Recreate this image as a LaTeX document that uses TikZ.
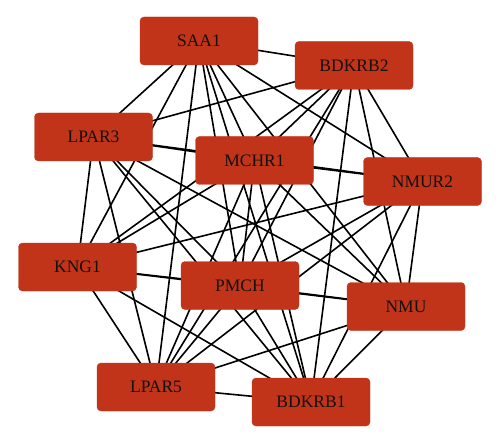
\documentclass[tikz,border=0pt]{standalone}
\usepackage{fontspec}
\setmainfont{Liberation Serif}
\definecolor{genered}{RGB}{193,52,26}
\definecolor{genetext}{RGB}{20,16,14}
\usepackage{tikz}
\usetikzlibrary{backgrounds}

\begin{document}
\begin{tikzpicture}[
      x=1pt, y=1pt,
      gene/.style={draw=genered, fill=genered, rounded corners=4pt,
                   minimum width=118pt, minimum height=48pt, outer sep=0pt,
                   text=genetext, font=\fontsize{17.5}{19}\selectfont},
      link/.style={black, line width=1.6pt}
    ]
    \useasboundingbox (0,0) rectangle (500,445);
    % genes
    \node[gene] (saa1)   at (199,404)   {SAA1};
    \node[gene] (bdkrb2) at (354,379.5) {BDKRB2};
    \node[gene] (lpar3)  at (93.5,308)  {LPAR3};
    \node[gene] (mchr1)  at (254.5,284.5) {MCHR1};
    \node[gene] (nmur2)  at (422.5,263.5) {NMUR2};
    \node[gene] (kng1)   at (77.5,178)  {KNG1};
    \node[gene] (pmch)   at (240,159.5) {PMCH};
    \node[gene] (nmu)    at (406,138.5) {NMU};
    \node[gene] (lpar5)  at (156,58)    {LPAR5};
    \node[gene] (bdkrb1) at (311,43)    {BDKRB1};
    % interactions, behind the boxes
    \begin{pgfonlayer}{background}
    \foreach \t in {bdkrb2,lpar3,mchr1,nmur2,kng1,pmch,nmu,lpar5,bdkrb1}
      \draw[link] (saa1.center) -- (\t.center);
    \foreach \t in {lpar3,mchr1,nmur2,kng1,pmch,nmu,lpar5,bdkrb1}
      \draw[link] (bdkrb2.center) -- (\t.center);
    \foreach \t in {mchr1,nmur2,kng1,pmch,nmu,lpar5,bdkrb1}
      \draw[link] (lpar3.center) -- (\t.center);
    \foreach \t in {nmur2,kng1,pmch,nmu,lpar5,bdkrb1}
      \draw[link] (mchr1.center) -- (\t.center);
    \foreach \t in {kng1,pmch,nmu,lpar5,bdkrb1}
      \draw[link] (nmur2.center) -- (\t.center);
    \foreach \t in {pmch,nmu,lpar5,bdkrb1}
      \draw[link] (kng1.center) -- (\t.center);
    \foreach \t in {nmu,lpar5,bdkrb1}
      \draw[link] (pmch.center) -- (\t.center);
    \foreach \t in {lpar5,bdkrb1}
      \draw[link] (nmu.center) -- (\t.center);
    \draw[link] (lpar5.center) -- (bdkrb1.center);
    \end{pgfonlayer}
  \end{tikzpicture}
\end{document}
